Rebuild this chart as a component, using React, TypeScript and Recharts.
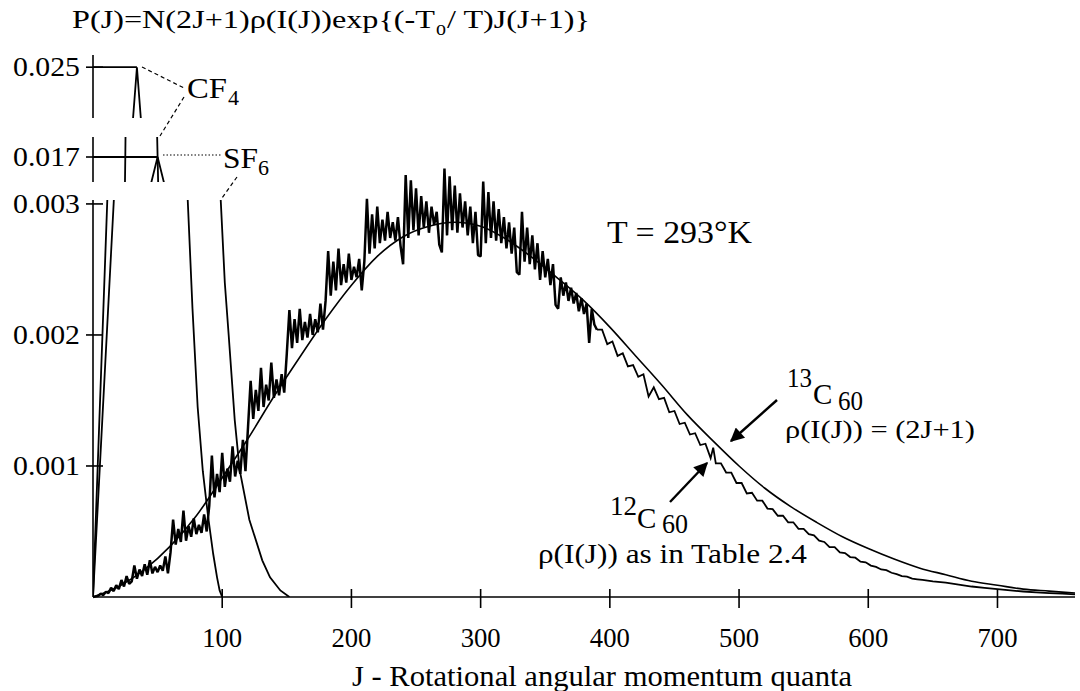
import React from "react";
import { LineChart, Line, XAxis, YAxis, ReferenceLine } from "recharts";

// x: J (rotational quanta); y: P(J) kept in units of 1e-4
const X_TICKS = [100, 200, 300, 400, 500, 600, 700];
const MAIN_TICKS = [10, 20, 30];
const CF4_ROW_TICKS = [250];
const SF6_ROW_TICKS = [170];

// 13C60, rho(I(J)) = (2J+1): smooth curve
const C13_60: [number, number][] = [
  [0, 0], [20, 0.8], [40, 2.1], [60, 3.9], [80, 6.2], [100, 9.1], [120, 12.1],
  [140, 15.3], [160, 18.3], [180, 21.2], [200, 23.8], [220, 26.0], [240, 27.5],
  [260, 28.3], [280, 28.6], [300, 28.3], [320, 27.3], [340, 25.9], [360, 24.3],
  [380, 22.6], [400, 20.6], [420, 18.4], [440, 16.2], [460, 13.9], [480, 11.9],
  [500, 10.0], [520, 8.3], [540, 6.9], [560, 5.7], [580, 4.6], [600, 3.7],
  [620, 2.9], [640, 2.2], [660, 1.7], [680, 1.2], [700, 0.9], [720, 0.6],
  [740, 0.45], [760, 0.3],
];

// 12C60, rho(I(J)) from Table 2.4: spiky part, one value every 2 J from J = 0
const C12_STEP = 2;
const C12_RISE = [
  0, 0.05, 0.1, 0.25, 0.15, 0.4, 0.3, 0.7, 0.45, 0.9, 0.6, 1.3, 0.8, 1.6, 1.0,
  1.2, 2.4, 1.4, 2.1, 1.6, 2.5, 1.7, 2.8, 1.8, 2.3, 1.9, 2.4, 2.0, 3.1, 1.8,
  3.4, 5.9, 4.0, 5.2, 4.2, 6.6, 4.3, 5.4, 4.6, 6.0, 4.8, 5.5, 4.9, 6.3, 5.0,
  7.0, 10.8, 7.6, 9.4, 8.0, 11.0, 8.4, 9.8, 8.8, 11.5, 9.2, 10.4, 9.4, 12.0, 9.6,
  13.0, 16.5, 13.6, 15.8, 14.2, 17.5, 14.5, 16.2, 15.0, 17.9, 15.2, 16.6, 15.4, 17.0, 15.6,
  18.6, 21.9, 19.0, 21.2, 19.4, 22.0, 19.6, 21.0, 19.8, 21.6, 20.0, 21.2, 20.2, 22.4, 20.4,
  22.6, 26.4, 23.0, 25.6, 23.4, 26.6, 23.8, 25.4, 24.0, 26.2, 24.2, 25.2, 24.4, 25.8, 23.4,
  25.6, 30.4, 26.2, 29.2, 26.6, 29.8, 27.0, 28.8, 27.2, 29.4, 27.4, 28.6, 27.2, 29.0, 26.8,
  25.4, 32.2, 27.4, 31.8, 28.0, 31.2, 27.6, 30.6, 28.2, 30.2, 27.8, 29.8, 28.4, 29.4, 26.9,
  26.3, 32.7, 27.6, 32.1, 28.0, 31.4, 27.8, 30.8, 28.2, 30.2, 27.6, 29.8, 27.0, 29.4, 26.1,
  26.0, 31.7, 27.0, 30.9, 27.4, 30.2, 27.2, 29.6, 27.0, 29.0, 26.6, 28.6, 26.2, 28.2, 24.8,
  24.6, 29.4, 25.6, 28.2, 25.4, 27.6, 25.0, 27.0, 24.2, 26.4, 24.4, 25.8, 23.8, 25.4, 22.3,
  22.0, 24.4, 23.0, 24.0, 22.6, 23.6, 22.4, 23.2, 21.8, 22.8, 21.6, 22.4, 19.4, 22.0, 20.8,
];

// 12C60 tail, just under the 13C60 curve
const C12_TAIL: [number, number][] = [
  [390, 20.4], [394, 20.4], [398, 19.3], [402, 19.5], [406, 18.4], [410, 18.6],
  [414, 17.6], [418, 17.7], [422, 16.8], [426, 17.0], [430, 15.3], [434, 16.0],
  [438, 15.1], [442, 15.2], [446, 14.1], [450, 14.2], [454, 13.2], [458, 13.3],
  [462, 12.4], [466, 12.5], [470, 11.6], [474, 11.7], [478, 10.6], [480, 11.4],
  [482, 10.2], [486, 10.2], [490, 9.5], [494, 9.5], [498, 8.7], [502, 8.7],
  [506, 7.9], [510, 7.95], [514, 7.35], [518, 7.35], [522, 6.75], [526, 6.7],
  [530, 6.2], [534, 6.2], [538, 5.7], [542, 5.7], [546, 5.2], [550, 5.2],
  [554, 4.8], [558, 4.7], [562, 4.3], [566, 4.2], [570, 3.8], [574, 3.8],
  [578, 3.4], [582, 3.35], [586, 3.05], [590, 3.0], [594, 2.7], [598, 2.65],
  [602, 2.4], [606, 2.3], [610, 2.1], [614, 2.05], [618, 1.85], [622, 1.75],
  [626, 1.6], [630, 1.55], [634, 1.4], [638, 1.35], [642, 1.3], [646, 1.25],
  [650, 1.2], [660, 1.1], [670, 0.95], [680, 0.8], [690, 0.7], [700, 0.6],
  [710, 0.5], [720, 0.42], [730, 0.35], [740, 0.3], [750, 0.25], [760, 0.2],
];

const CF4: [number, number][] = [
  [0, 0], [11.4, 31.2], [25, 170], [31, 245], [34, 250], [37, 245], [50, 170],
  [73, 31], [77, 22], [81, 14.5], [85, 9.6], [89, 6.2], [93, 3.3], [96, 1.5],
  [98, 0.5], [100, 0],
];

const SF6: [number, number][] = [
  [0, 0], [16.5, 31], [45, 167.4], [50, 170], [55, 167.4], [98.5, 31],
  [102, 24], [105, 20], [109.7, 13.5], [113.5, 9.7], [121, 5.9], [131, 2.8],
  [137, 1.5], [145, 0.5], [152, 0],
];

const CF4_PEAK = { j: 34, p: 250 };
const SF6_PEAK = { j: 50, p: 170 };

const rows = (pairs: [number, number][]) => pairs.map(([j, p]) => ({ j, p }));
const c13Rows = rows(C13_60);
const c12TailRows = rows(C12_TAIL);
// the spiky part runs on into the first tail point so the curve stays joined
const c12RiseRows = [
  ...C12_RISE.map((p, i) => ({ j: i * C12_STEP, p })),
  c12TailRows[0],
];
const cf4Rows = rows(CF4);
const sf6Rows = rows(SF6);

const W = 1080;
const H = 691;
const SERIF = "'Liberation Serif', 'Times New Roman', Times, serif";
const PLOT_LEFT = 93;
const AXIS_BOTTOM = 597;
const MAIN_TOP = 200;
const MAIN_MAX = 30.3;
const PX_PER_UNIT = (AXIS_BOTTOM - MAIN_TOP) / MAIN_MAX;
const SPIKE_MAX = 34;

const fmtP = (v: number) => (v / 10000).toFixed(3);

function YTick(props: any) {
  const { x, y, payload } = props;
  return (
    <g>
      <line x1={x - 7} x2={x + 10} y1={y} y2={y} stroke="#000" strokeWidth={1.6} />
      <text x={x - 80} y={y + 9} fontSize={28} style={{ fontFamily: SERIF }} fill="#000"
        textLength={67} lengthAdjust="spacingAndGlyphs">
        {fmtP(payload.value)}
      </text>
    </g>
  );
}

function XTick(props: any) {
  const { x, y, payload } = props;
  return (
    <g>
      <line x1={x} x2={x} y1={y - 8} y2={y + 11} stroke="#000" strokeWidth={1.6} />
      <text x={x} y={y + 50} fontSize={28} style={{ fontFamily: SERIF }} fill="#000"
        textAnchor="middle" textLength={40} lengthAdjust="spacingAndGlyphs">
        {payload.value}
      </text>
    </g>
  );
}

const xAxisCommon = {
  type: "number" as const,
  dataKey: "j",
  domain: [0, 760],
  allowDataOverflow: true,
};

function MainPanel() {
  return (
    <LineChart width={W} height={H}
      margin={{ top: MAIN_TOP, right: 5, bottom: H - AXIS_BOTTOM - 30, left: PLOT_LEFT - 60 }}>
      <XAxis {...xAxisCommon} height={30} ticks={X_TICKS} tick={<XTick />}
        tickSize={0} tickMargin={0} tickLine={false}
        axisLine={{ stroke: "#000", strokeWidth: 1.6 }} />
      <YAxis type="number" width={60} domain={[0, MAIN_MAX]} allowDataOverflow
        ticks={MAIN_TICKS} tick={<YTick />} tickSize={0} tickMargin={0}
        tickLine={false} axisLine={{ stroke: "#000", strokeWidth: 1.6 }} />
      <Line data={c13Rows} dataKey="p" type="monotone" stroke="#000"
        strokeWidth={1.6} dot={false} activeDot={false} isAnimationActive={false} />
      <Line data={cf4Rows} dataKey="p" type="linear" stroke="#000"
        strokeWidth={1.8} dot={false} activeDot={false} isAnimationActive={false} />
      <Line data={sf6Rows} dataKey="p" type="linear" stroke="#000"
        strokeWidth={1.8} dot={false} activeDot={false} isAnimationActive={false} />
    </LineChart>
  );
}

// same x/y scale as the main panel, but taller so the 12C60 spikes can rise past 0.003
function SpikePanel() {
  const top = AXIS_BOTTOM - SPIKE_MAX * PX_PER_UNIT;
  return (
    <LineChart width={W} height={H}
      margin={{ top, right: 5, bottom: H - AXIS_BOTTOM, left: PLOT_LEFT }}>
      <XAxis {...xAxisCommon} hide />
      <YAxis type="number" domain={[0, SPIKE_MAX]} hide />
      <Line data={c12RiseRows} dataKey="p" type="linear" stroke="#000"
        strokeWidth={2.5} strokeLinejoin="bevel" dot={false} activeDot={false}
        isAnimationActive={false} />
      <Line data={c12TailRows} dataKey="p" type="linear" stroke="#000"
        strokeWidth={1.8} dot={false} activeDot={false} isAnimationActive={false} />
    </LineChart>
  );
}

// broken-axis strip around a peak value
function PeakRow({ top, bottom, domain, ticks, peak }: {
  top: number; bottom: number; domain: [number, number]; ticks: number[];
  peak: { j: number; p: number };
}) {
  return (
    <LineChart width={W} height={H}
      margin={{ top, right: 5, bottom: H - bottom, left: PLOT_LEFT - 60 }}>
      <XAxis {...xAxisCommon} hide />
      <YAxis type="number" width={60} domain={domain} allowDataOverflow
        ticks={ticks} tick={<YTick />} tickSize={0} tickMargin={0}
        tickLine={false} axisLine={{ stroke: "#000", strokeWidth: 1.6 }} />
      <ReferenceLine segment={[{ x: 0, y: peak.p }, { x: peak.j, y: peak.p }]}
        stroke="#000" strokeWidth={1.8} />
      <Line data={cf4Rows} dataKey="p" type="linear" stroke="#000"
        strokeWidth={1.8} dot={false} activeDot={false} isAnimationActive={false} />
      <Line data={sf6Rows} dataKey="p" type="linear" stroke="#000"
        strokeWidth={1.8} dot={false} activeDot={false} isAnimationActive={false} />
    </LineChart>
  );
}

function Annotations() {
  const t = { style: { fontFamily: SERIF }, fill: "#000" };
  return (
    <svg width={W} height={H} style={{ position: "absolute", left: 0, top: 0 }}>
      <defs>
        <marker id="headBig" viewBox="0 0 10 10" refX="9" refY="5" markerWidth="18"
          markerHeight="14" markerUnits="userSpaceOnUse" orient="auto">
          <path d="M0,0 L10,5 L0,10 z" fill="#000" />
        </marker>
      </defs>
      <text x={72} y={28} fontSize={25} {...t} textLength={363} lengthAdjust="spacingAndGlyphs">
        P(J)=N(2J+1)ρ(I(J))exp{"{"}(-T
      </text>
      <text x={436} y={35} fontSize={20} {...t}>o</text>
      <text x={447} y={28} fontSize={25} {...t} textLength={143} lengthAdjust="spacingAndGlyphs">
        / T)J(J+1){"}"}
      </text>

      <text x={187} y={98} fontSize={29} {...t} textLength={40} lengthAdjust="spacingAndGlyphs">CF</text>
      <text x={228} y={105} fontSize={22} {...t}>4</text>
      <text x={223} y={168} fontSize={29} {...t} textLength={35} lengthAdjust="spacingAndGlyphs">SF</text>
      <text x={258} y={175} fontSize={22} {...t}>6</text>

      <line x1={142} y1={67} x2={184} y2={88} stroke="#000" strokeWidth={1.2} strokeDasharray="4 3" />
      <line x1={184} y1={97} x2={160} y2={136} stroke="#000" strokeWidth={1.2} strokeDasharray="4 3" />
      <line x1={163} y1={155} x2={221} y2={155} stroke="#000" strokeWidth={1.2} strokeDasharray="1.5 2" />
      <line x1={237} y1={177} x2={222} y2={198} stroke="#000" strokeWidth={1.2} strokeDasharray="4 3" />

      <text x={607} y={243} fontSize={32} {...t} textLength={145} lengthAdjust="spacingAndGlyphs">T = 293°K</text>

      <text x={787} y={387} fontSize={27} {...t} textLength={25} lengthAdjust="spacingAndGlyphs">13</text>
      <text x={813} y={404} fontSize={29} {...t}>C</text>
      <text x={838} y={410} fontSize={27} {...t} textLength={25} lengthAdjust="spacingAndGlyphs">60</text>
      <text x={785} y={438} fontSize={26} {...t} textLength={190} lengthAdjust="spacingAndGlyphs">ρ(I(J)) = (2J+1)</text>
      <line x1={777} y1={400} x2={731} y2={441} stroke="#000" strokeWidth={2.4} markerEnd="url(#headBig)" />

      <text x={610} y={515} fontSize={27} {...t} textLength={27} lengthAdjust="spacingAndGlyphs">12</text>
      <text x={637} y={528} fontSize={29} {...t}>C</text>
      <text x={662} y={533} fontSize={27} {...t} textLength={26} lengthAdjust="spacingAndGlyphs">60</text>
      <text x={538} y={563} fontSize={27} {...t} textLength={269} lengthAdjust="spacingAndGlyphs">ρ(I(J)) as in Table 2.4</text>
      <line x1={670} y1={502} x2={707} y2={463} stroke="#000" strokeWidth={2.4} markerEnd="url(#headBig)" />

      <text x={602} y={686} fontSize={29} {...t} textAnchor="middle" textLength={500} lengthAdjust="spacingAndGlyphs">
        J - Rotational angular momentum quanta
      </text>
    </svg>
  );
}

export default function App() {
  const layer: React.CSSProperties = { position: "absolute", left: 0, top: 0 };
  return (
    <div style={{ position: "fixed", left: 0, top: 0, width: W, height: H, background: "#fff", overflow: "hidden" }}>
      <div style={layer}><MainPanel /></div>
      <div style={layer}><SpikePanel /></div>
      <div style={layer}>
        <PeakRow top={55} bottom={118} domain={[245, 251.2]} ticks={CF4_ROW_TICKS} peak={CF4_PEAK} />
      </div>
      <div style={layer}>
        <PeakRow top={137} bottom={182} domain={[167.5, 172]} ticks={SF6_ROW_TICKS} peak={SF6_PEAK} />
      </div>
      <Annotations />
    </div>
  );
}
